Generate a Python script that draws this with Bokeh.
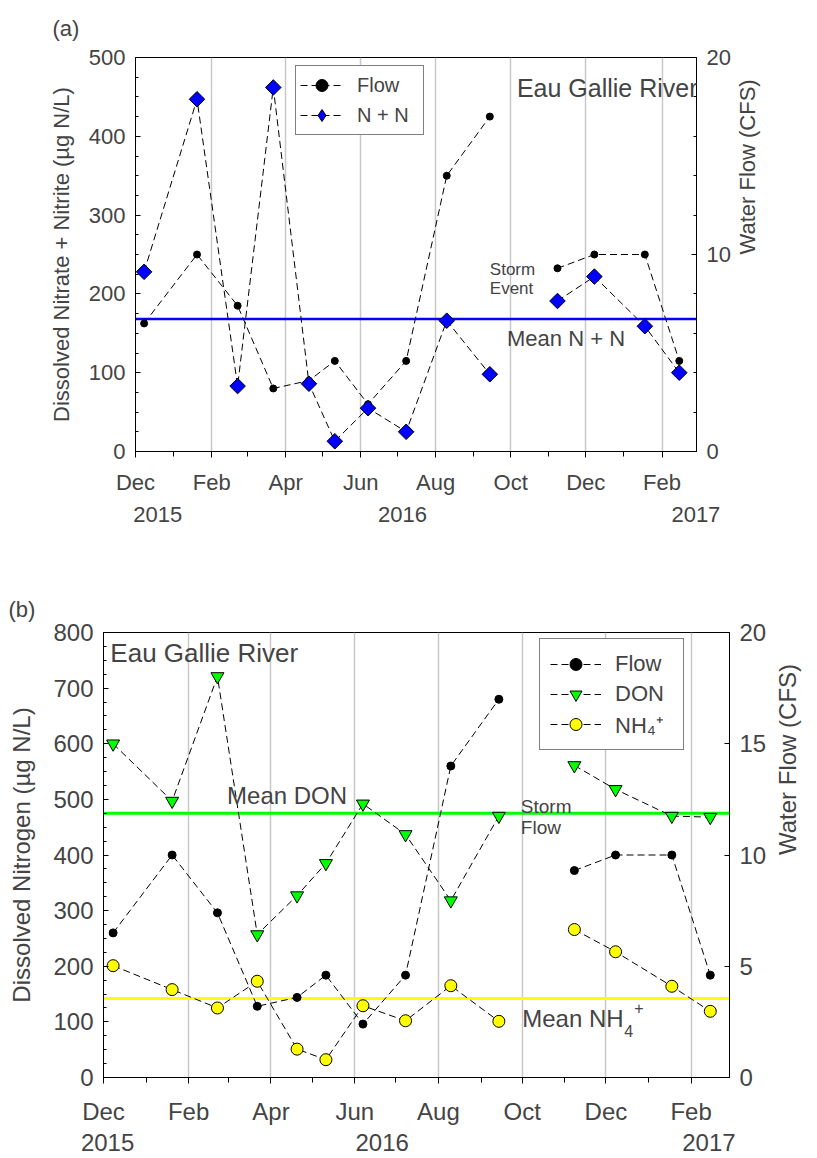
import math
import pandas as pd
from bokeh.plotting import figure
from bokeh.models import (Range1d, LinearAxis, FixedTicker, SingleIntervalTicker,
                          Span, Label, Legend, LegendItem)
from bokeh.embed import file_html
from bokeh.resources import INLINE

# ---------------- data ----------------
sample_dates = ["2015-12-08", "2016-01-20", "2016-02-22", "2016-03-22", "2016-04-20",
                "2016-05-11", "2016-06-07", "2016-07-08", "2016-08-10", "2016-09-14",
                "2016-11-08", "2016-12-08", "2017-01-18", "2017-02-15"]
flow_cfs = [6.5, 10.0, 7.4, 3.2, 3.6, 4.6, 2.4, 4.6, 14.0, 17.0, 9.3, 10.0, 10.0, 4.6]
nitrate_nitrite = [228, 447, 83, 462, 86, 13, 55, 25, 166, 98, 191, 222, 159, 100]
don = [600, 497, 721, 257, 327, 385, 492, 437, 318, 470, 561, 518, 470, 468]
nh4 = [201, 158, 125, 173, 51, 32, 129, 102, 165, 101, 266, 226, 164, 119]
mean_nn = 168
mean_don = 475
mean_nh4 = 142

# sampling runs: no sample in October 2016, so the lines break there
runs = [(0, 10), (10, 14)]

axis_start = "2015-12-01"
axis_end = "2017-03-01"
month_tick_dates = ["2015-12-01", "2016-02-01", "2016-04-01", "2016-06-01",
                    "2016-08-01", "2016-10-01", "2016-12-01", "2017-02-01"]
month_tick_labels = ["Dec", "Feb", "Apr", "Jun", "Aug", "Oct", "Dec", "Feb"]
minor_tick_dates = ["2016-01-01", "2016-03-01", "2016-05-01", "2016-07-01",
                    "2016-09-01", "2016-11-01", "2017-01-01"]
year_labels = ["2015", "2016", "2017"]

FONT = "Liberation Sans"
origin = pd.Timestamp(axis_start)


def to_day(d):
    return float((pd.Timestamp(d) - origin).days)


days = [to_day(d) for d in sample_dates]
end_day = to_day(axis_end)
major_days = [to_day(d) for d in month_tick_dates]
minor_days = [to_day(d) for d in minor_tick_dates]

DASH = "7 4"


def make_fig(height, ymax, borders, tick_fs, title_fs, left_label, year_pos, right_major,
             panel, panel_offset, panel_valign, panel_standoff, month_standoff, year_standoff,
             left_title_standoff, right_title_standoff):
    l, r, t, b = borders
    p = figure(width=817, height=height, x_range=Range1d(0, end_day), y_range=Range1d(0, ymax),
               output_backend="svg", toolbar_location=None,
               min_border_left=l, min_border_right=r, min_border_top=t, min_border_bottom=b)
    p.title.text = panel
    p.title.align = "left"
    p.title.offset = panel_offset
    p.title.vertical_align = panel_valign
    p.title.standoff = panel_standoff
    p.title.text_font = FONT
    p.title.text_font_size = "22px"
    p.title.text_font_style = "normal"
    p.background_fill_color = "white"
    p.border_fill_color = "white"
    p.outline_line_color = "black"
    p.outline_line_width = 1
    p.outline_line_alpha = 1
    p.ygrid.visible = False
    p.xgrid.ticker = FixedTicker(ticks=major_days)
    p.xgrid.grid_line_color = "#c8c8c8"
    p.xgrid.grid_line_width = 1.5

    xa = p.xaxis[0]
    xa.ticker = FixedTicker(ticks=major_days, minor_ticks=minor_days)
    xa.major_label_overrides = {d: lab for d, lab in zip(major_days, month_tick_labels)}
    xa.major_tick_in = 0
    xa.major_tick_out = 6
    xa.minor_tick_in = 0
    xa.minor_tick_out = 5
    xa.major_label_standoff = month_standoff
    xa.major_label_text_font = FONT
    xa.major_label_text_font_size = tick_fs
    xa.axis_line_color = "black"

    ya = LinearAxis(ticker=FixedTicker(ticks=year_pos), axis_line_color=None,
                    major_tick_line_color=None, minor_tick_line_color=None,
                    major_label_standoff=year_standoff,
                    major_label_overrides={v: s for v, s in zip(year_pos, year_labels)},
                    major_label_text_font=FONT, major_label_text_font_size=tick_fs)
    p.add_layout(ya, "below")

    yl = p.yaxis[0]
    yl.ticker = SingleIntervalTicker(interval=100, num_minor_ticks=4)
    yl.major_tick_in = 5
    yl.major_tick_out = 0
    yl.minor_tick_in = 3
    yl.minor_tick_out = 0
    yl.major_label_standoff = 10
    yl.major_label_text_font = FONT
    yl.major_label_text_font_size = tick_fs
    yl.axis_label = left_label
    yl.axis_label_text_font = FONT
    yl.axis_label_text_font_size = title_fs
    yl.axis_label_text_font_style = "normal"
    yl.axis_label_standoff = left_title_standoff

    p.extra_y_ranges = {"flow": Range1d(0, 20)}
    ra = LinearAxis(y_range_name="flow", axis_label="Water Flow (CFS)")
    interval, nminor = right_major
    ra.ticker = SingleIntervalTicker(interval=interval, num_minor_ticks=nminor)
    ra.major_tick_in = 5
    ra.major_tick_out = 0
    ra.minor_tick_in = 3
    ra.minor_tick_out = 0
    if nminor <= 1:
        ra.minor_tick_line_color = None
    ra.major_label_standoff = 10
    ra.major_label_text_font = FONT
    ra.major_label_text_font_size = tick_fs
    ra.axis_label_text_font = FONT
    ra.axis_label_text_font_size = title_fs
    ra.axis_label_text_font_style = "normal"
    ra.axis_label_standoff = right_title_standoff
    ra.axis_label_orientation = math.pi / 2
    p.add_layout(ra, "right")
    return p


def series(p, yvals, marker, size, fill, y_range_name="default", angle=0.0, legend_marker=None):
    lines = []
    for a, b in runs:
        lines.append(p.line(days[a:b], yvals[a:b], y_range_name=y_range_name,
                            line_color="black", line_width=1, line_dash=DASH))
    s = p.scatter(days, yvals, y_range_name=y_range_name, marker=marker, size=size,
                  fill_color=fill, line_color="black", line_width=1, angle=angle)
    if legend_marker is None:
        return [lines[0], s]
    # legend-only twin (hidden in the plot) so the legend shows a diamond
    proxy = p.scatter(days, yvals, y_range_name=y_range_name, marker=legend_marker, size=size,
                      fill_color=fill, line_color="black", line_width=1, visible=False)
    return [lines[0], proxy]


def lab(p, x, y, text, fs, **kw):
    p.add_layout(Label(x=x, y=y, text=text, text_font=FONT, text_font_size=fs,
                       text_baseline="middle", text_align="left", **kw))


# ---------------- panel (a) ----------------
pa = make_fig(560, 500, (135, 121, 57, 109), "22px", "22px",
              "Dissolved Nitrate + Nitrite (µg N/L)", [18, 217, 455.5], (10, 5),
              "(a)", -83, "top", 30, 12, 3, 12, 14)
pa.add_layout(Span(location=mean_nn, dimension="width", line_color="#0000ff",
                   line_width=2.5, level="underlay"))
flow_a = series(pa, flow_cfs, "circle", 7, "black", y_range_name="flow")
nn_a = series(pa, nitrate_nitrite, "square", 11, "#0000ff", angle=math.pi / 4,
              legend_marker="diamond")
leg_a = Legend(items=[LegendItem(label="Flow", renderers=flow_a),
                      LegendItem(label="N + N", renderers=nn_a)],
               location=(160, 316), glyph_width=43, glyph_height=30, label_height=30,
               label_width=62, label_standoff=14, padding=4, spacing=0,
               label_text_font=FONT, label_text_font_size="20px",
               border_line_color="black", border_line_width=1, background_fill_alpha=1)
pa.add_layout(leg_a)
lab(pa, 310, 461, "Eau Gallie River", "25px")
lab(pa, 288, 231, "Storm", "17px")
lab(pa, 288, 207, "Event", "17px")
lab(pa, 302, 143, "Mean N + N", "22px")

# ---------------- panel (b) ----------------
pb = make_fig(598, 800, (103, 80, 72, 81), "24px", "24px",
              "Dissolved Nitrogen (µg N/L)", [3, 203, 441], (5, 0),
              "(b)", -95, "top", 18, 14, 0, 15, 18)
pb.add_layout(Span(location=mean_don, dimension="width", line_color="#00ff00",
                   line_width=3, level="underlay"))
pb.add_layout(Span(location=mean_nh4, dimension="width", line_color="#ffff00",
                   line_width=3, level="underlay"))
flow_b = series(pb, flow_cfs, "circle", 8, "black", y_range_name="flow")
don_b = series(pb, don, "inverted_triangle", 13, "#00ff00")
nh4_b = series(pb, nh4, "circle", 12, "#ffff00")
leg_b = Legend(items=[LegendItem(label="Flow", renderers=flow_b),
                      LegendItem(label="DON", renderers=don_b),
                      LegendItem(label="NH₄⁺", renderers=nh4_b)],
               location=(436, 327), glyph_width=51, glyph_height=30, label_height=30,
               label_width=58, label_standoff=14, padding=10, spacing=0,
               label_text_font=FONT, label_text_font_size="22px",
               border_line_color="black", border_line_width=1, background_fill_alpha=1)
pb.add_layout(leg_b)
lab(pb, 5, 763, "Eau Gallie River", "26px")
lab(pb, 90, 507, "Mean DON", "24px")
lab(pb, 304, 487, "Storm", "19px")
lab(pb, 304, 450, "Flow", "19px")
lab(pb, 305, 106, "Mean NH", "24px")
lab(pb, 305, 106, "4", "16px", x_offset=102, y_offset=-12)
lab(pb, 305, 106, "+", "16px", x_offset=112, y_offset=11)

open("out.html", "w").write(file_html([pa, pb], INLINE))
